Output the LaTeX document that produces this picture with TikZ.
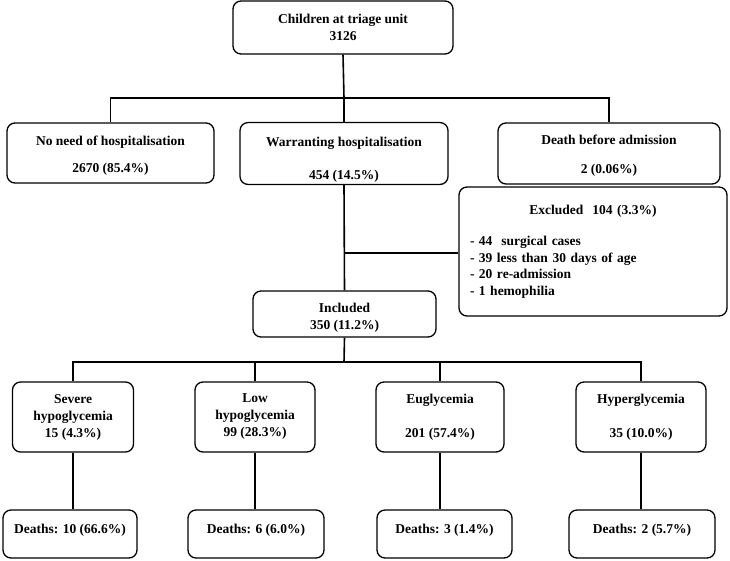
\documentclass[tikz,border=0pt]{standalone}
\usepackage{fontspec}
\setmainfont{Liberation Serif}
\usetikzlibrary{positioning}

\begin{document}
\begin{tikzpicture}[x=1pt, y=-1pt,
        box/.style={rectangle, draw=black, line width=1.3pt, rounded corners=8pt, fill=white,
            font=\fontsize{13.5}{17}\selectfont\bfseries, align=center, inner sep=2pt},
        link/.style={-, line width=1.6pt}]

    \useasboundingbox (0,0) rectangle (730,560);

    \node (triage) [box, minimum width=220pt, minimum height=53pt] at (343,27.5) {Children at triage unit\\3126};

    \node (nohosp) [box, minimum width=207pt, minimum height=60pt] at (110.5,153) {\rule{0pt}{14pt}No need of hospitalisation\\[10pt]2670 (85.4\%)};
    \node (warrant) [box, minimum width=208pt, minimum height=61pt] at (344,153.5) {\rule{0pt}{22pt}Warranting hospitalisation\\[16pt]454 (14.5\%)};
    \node (death) [box, minimum width=222pt, minimum height=61pt] at (609,153.5) {\rule{0pt}{14pt}Death before admission\\[12pt]2 (0.06\%)};

    \node (excluded) [box, minimum width=268pt, minimum height=129pt, text width=246pt, inner xsep=11pt, align=left,
        font=\fontsize{13.5}{16.5}\selectfont\bfseries] at (593,251.5)
        {\makebox[246pt][c]{Excluded\ \ 104 (3.3\%)}\\[15pt]- 44\ \ surgical cases\\- 39 less than 30 days of age\\- 20 re-admission\\- 1 hemophilia};

    \node (included) [box, minimum width=183pt, minimum height=46pt] at (344.5,314) {\rule{0pt}{16pt}Included\\350 (11.2\%)};

    \node (severe) [box, minimum width=121pt, minimum height=70pt] at (73,417) {Severe\\hypoglycemia\\15 (4.3\%)};
    \node (low) [box, minimum width=120pt, minimum height=70pt] at (255,417) {Low\\hypoglycemia\\99 (28.3\%)};
    \node (eugly) [box, minimum width=128pt, minimum height=70pt] at (440,417) {Euglycemia\\[17pt]201 (57.4\%)};
    \node (hyper) [box, minimum width=130pt, minimum height=70pt] at (641,417) {Hyperglycemia\\[17pt]35 (10.0\%)};

    \node (dsevere) [box, minimum width=134pt, minimum height=48pt] at (70,534) {Deaths: 10 (66.6\%)\\[-6pt]\mbox{}};
    \node (dlow) [box, minimum width=136pt, minimum height=48pt] at (256,534) {Deaths: 6 (6.0\%)\\[-6pt]\mbox{}};
    \node (deugly) [box, minimum width=135pt, minimum height=48pt] at (444.5,534) {Deaths: 3 (1.4\%)\\[-6pt]\mbox{}};
    \node (dhyper) [box, minimum width=146pt, minimum height=48pt] at (642,534) {Deaths: 2 (5.7\%)\\[-6pt]\mbox{}};

    \coordinate (split1) at (344,98);
    \coordinate (exsplit) at (344,253);
    \coordinate (split2) at (344,362);

    \draw [link] (triage.south) -- (split1);
    \draw [link] (nohosp.north) |- (split1) -| (death.north);
    \draw [link] (split1) -- (warrant.north);
    \draw [link] (warrant.south) -- (included.north);
    \draw [link] (exsplit) -- (exsplit -| excluded.west);
    \draw [link] (included.south) -- (split2);
    \draw [link] (severe.north) |- (split2) -| (hyper.north);
    \draw [link] (split2 -| low.north) -- (low.north);
    \draw [link] (split2 -| eugly.north) -- (eugly.north);
    \draw [link] (severe.south) -- (severe.south |- dsevere.north);
    \draw [link] (low.south) -- (low.south |- dlow.north);
    \draw [link] (eugly.south) -- (eugly.south |- deugly.north);
    \draw [link] (hyper.south) -- (hyper.south |- dhyper.north);
\end{tikzpicture}
\end{document}
